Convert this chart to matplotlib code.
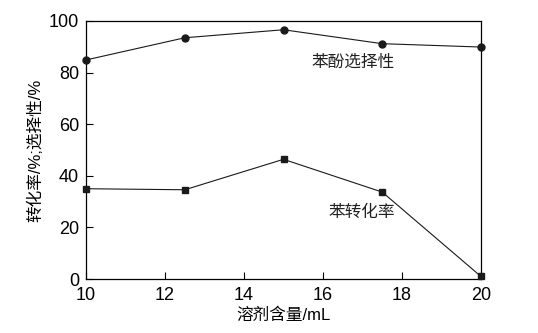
import matplotlib
matplotlib.use("Agg")
import matplotlib.pyplot as plt

# solvent volume (mL)
solvent_ml = [10, 12.5, 15, 17.5, 20]
# phenol selectivity (%)
phenol_selectivity = [84.9, 93.5, 96.6, 91.2, 89.9]
# benzene conversion (%)
benzene_conversion = [35.0, 34.6, 46.4, 33.7, 1.0]

x_ticks = [10, 12, 14, 16, 18, 20]
y_ticks = [0, 20, 40, 60, 80, 100]

plt.rcParams['font.family'] = ['Liberation Sans', 'Noto Sans CJK SC']

fig = plt.figure(figsize=(5.38, 3.33), dpi=100)
ax = fig.add_axes([0.160, 0.162, 0.734, 0.775])

ax.plot(solvent_ml, phenol_selectivity, color="#1a1a1a", lw=0.8,
        marker="o", markersize=5, clip_on=False, zorder=3)
ax.plot(solvent_ml, benzene_conversion, color="#1a1a1a", lw=0.8,
        marker="s", markersize=5, clip_on=False, zorder=3)

ax.text(16.76, 84.1, "苯酚选择性", fontsize=12, ha="center", va="center",
        family=['Noto Sans CJK SC'], color="#222222")
ax.text(16.99, 26.0, "苯转化率", fontsize=12, ha="center", va="center",
        family=['Noto Sans CJK SC'], color="#222222")

ax.set_xlim(10, 20)
ax.set_ylim(0, 100)
ax.set_xticks(x_ticks)
ax.set_yticks(y_ticks)
ax.tick_params(direction="in", length=5, width=0.8, labelsize=13,
               top=False, right=False)
ax.tick_params(axis="x", pad=6)
ax.tick_params(axis="y", pad=5)
for s in ax.spines.values():
    s.set_linewidth(0.9)

ax.set_xlabel("溶剂含量/mL", fontsize=12, labelpad=2)
ax.set_ylabel("转化率/%;选择性/%", fontsize=12, labelpad=4)

fig.savefig("out.png", dpi=100)
